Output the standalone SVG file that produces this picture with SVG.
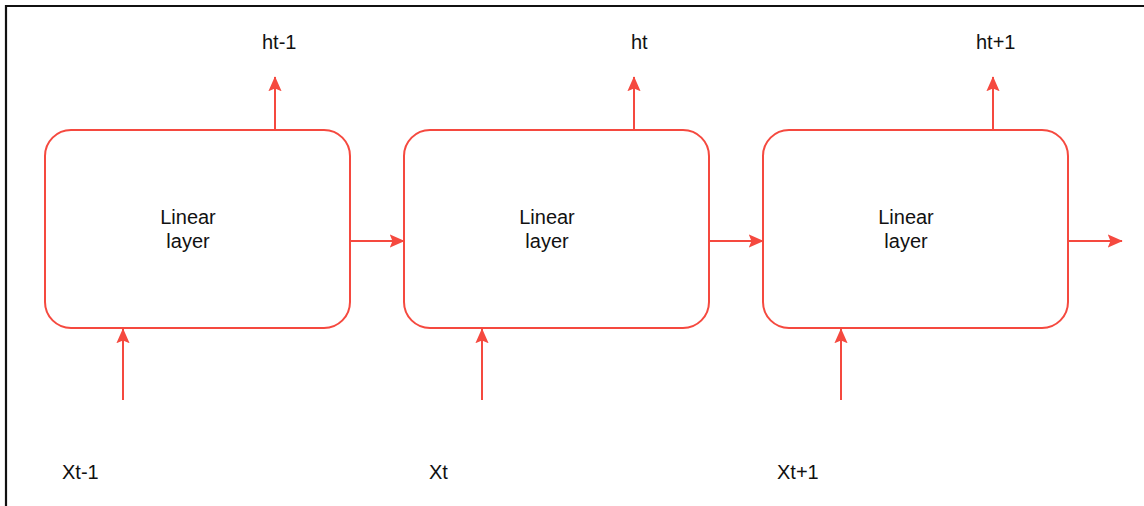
<svg xmlns="http://www.w3.org/2000/svg" width="1144" height="506" viewBox="0 0 1144 506">
  <style>
    .box { fill: #ffffff; stroke: #f5493f; stroke-width: 2; }
    .conn { stroke: #f5493f; stroke-width: 2; fill: none; }
    .lbl { font-family: "Liberation Sans", Arial, sans-serif; font-size: 20px; fill: #111111; }
    .mid { text-anchor: middle; }
  </style>
  <defs>
    <marker id="arr" viewBox="0 0 10 10" refX="9.5" refY="5" markerWidth="7.5" markerHeight="7.5" orient="auto" markerUnits="strokeWidth">
      <path d="M0,0.6 L10,5 L0,9.4 L1.8,5 Z" fill="#f5493f"/>
    </marker>
  </defs>
  <rect x="0" y="0" width="1144" height="506" fill="#ffffff"/>
  <path d="M6,506 L6,6 L1144,6" fill="none" stroke="#111111" stroke-width="2.2"/>

  <g id="node1">
    <rect class="box" x="45" y="130" width="305" height="198" rx="26" ry="26"/>
    <text class="lbl mid" x="188" y="224">Linear</text>
    <text class="lbl mid" x="188" y="248">layer</text>
  </g>
  <g id="node2">
    <rect class="box" x="404" y="130" width="305" height="198" rx="26" ry="26"/>
    <text class="lbl mid" x="547" y="224">Linear</text>
    <text class="lbl mid" x="547" y="248">layer</text>
  </g>
  <g id="node3">
    <rect class="box" x="763" y="130" width="305" height="198" rx="26" ry="26"/>
    <text class="lbl mid" x="906" y="224">Linear</text>
    <text class="lbl mid" x="906" y="248">layer</text>
  </g>

  <g id="labels">
    <text class="lbl" x="262" y="49">ht-1</text>
    <text class="lbl" x="631" y="49">ht</text>
    <text class="lbl" x="976" y="49">ht+1</text>
    <text class="lbl" x="62" y="479">Xt-1</text>
    <text class="lbl" x="429" y="479">Xt</text>
    <text class="lbl" x="777" y="479">Xt+1</text>
  </g>

  <g id="connectors">
    <line class="conn" x1="275" y1="130" x2="275" y2="77" marker-end="url(#arr)"/>
    <line class="conn" x1="634" y1="130" x2="634" y2="77" marker-end="url(#arr)"/>
    <line class="conn" x1="993" y1="130" x2="993" y2="77" marker-end="url(#arr)"/>
    <line class="conn" x1="123" y1="400" x2="123" y2="329" marker-end="url(#arr)"/>
    <line class="conn" x1="482" y1="400" x2="482" y2="329" marker-end="url(#arr)"/>
    <line class="conn" x1="841" y1="400" x2="841" y2="329" marker-end="url(#arr)"/>
    <line class="conn" x1="350" y1="241" x2="404" y2="241" marker-end="url(#arr)"/>
    <line class="conn" x1="709" y1="241" x2="763" y2="241" marker-end="url(#arr)"/>
    <line class="conn" x1="1068" y1="241" x2="1122" y2="241" marker-end="url(#arr)"/>
  </g>
</svg>
